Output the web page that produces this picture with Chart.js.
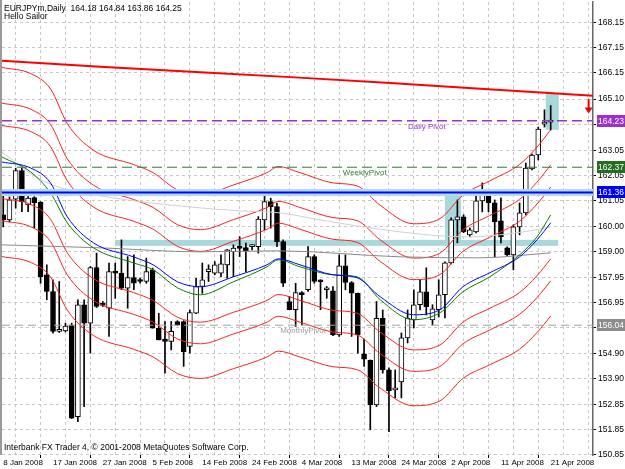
<!DOCTYPE html>
<html>
<head>
<meta charset="utf-8">
<script src="https://cdn.jsdelivr.net/npm/chart.js@4.4.1/dist/chart.umd.min.js"></script>
<style>
  html, body { margin: 0; padding: 0; background: #fff; }
</style>
</head>
<body>
<canvas id="c" width="625" height="469"></canvas>
<script>
// EURJPYm daily, 8 Jan 2008 .. 21 Apr 2008 (bars incl. sunday bars)
const dateLabels = ["8 Jan 2008", "17 Jan 2008", "27 Jan 2008", "5 Feb 2008", "14 Feb 2008", "24 Feb 2008",
  "4 Mar 2008", "13 Mar 2008", "24 Mar 2008", "2 Apr 2008", "11 Apr 2008", "21 Apr 2008"];

const opens = [160.46, 160.26, 161.09, 162.24, 160.86, 161.15, 160.97, 158.06, 157.39, 155.79,
  155.81, 156.05, 152.38, 156.86, 156.12, 158.35, 156.92, 156.72, 158.19, 158.13,
  157.52, 157.95, 157.80, 157.79, 158.26, 155.92, 155.48, 155.39, 156.19, 156.19,
  155.19, 156.52, 157.59, 158.19, 158.13, 158.13, 158.46, 158.99, 159.13, 159.15,
  159.19, 159.19, 160.26, 160.99, 160.79, 159.39, 156.99, 156.66, 157.35, 157.46,
  158.79, 157.79, 157.46, 157.42, 155.65, 158.42, 157.75, 157.32, 154.89, 154.63,
  152.85, 156.32, 154.25, 153.45, 153.77, 155.53, 156.25, 156.86, 157.38, 156.25,
  156.66, 157.26, 158.54, 160.26, 160.38, 159.66, 159.78, 161.02, 161.26, 160.94,
  160.22, 159.14, 158.86, 159.98, 160.54, 162.30, 162.86, 164.10, 164.18];
const highs = [161.34, 161.18, 162.33, 162.33, 161.19, 161.19, 160.99, 158.46, 157.86, 157.79,
  156.12, 156.12, 157.06, 157.06, 158.39, 158.93, 156.99, 158.53, 158.53, 159.46,
  158.79, 158.86, 157.93, 158.73, 158.33, 156.52, 156.19, 156.19, 156.22, 156.22,
  156.65, 157.92, 158.53, 158.46, 158.59, 158.86, 159.08, 159.26, 159.59, 159.33,
  159.26, 160.39, 161.35, 161.13, 160.93, 159.46, 157.19, 157.72, 157.39, 159.19,
  158.86, 157.86, 157.59, 157.59, 158.86, 158.86, 157.79, 157.33, 155.48, 154.65,
  156.99, 156.65, 154.33, 154.25, 155.73, 156.65, 157.46, 157.86, 158.34, 156.86,
  157.86, 158.58, 160.34, 161.06, 160.46, 159.94, 161.46, 161.74, 161.34, 161.06,
  161.14, 159.18, 160.06, 160.94, 162.54, 162.90, 163.98, 164.67, 164.84];
const lows = [159.98, 160.18, 160.73, 160.59, 160.59, 159.93, 157.72, 157.06, 155.72, 155.75,
  155.77, 152.30, 152.18, 152.78, 154.92, 156.75, 156.79, 155.59, 157.12, 157.46,
  156.72, 157.46, 157.72, 157.72, 155.92, 155.45, 154.12, 155.05, 156.02, 154.39,
  154.92, 156.50, 157.32, 157.79, 158.06, 157.99, 157.92, 157.99, 158.79, 158.19,
  159.06, 158.93, 159.86, 159.93, 159.19, 157.59, 156.66, 155.99, 156.05, 157.39,
  157.72, 156.66, 157.12, 155.62, 155.59, 157.46, 155.59, 154.92, 154.39, 151.85,
  152.78, 154.12, 151.77, 153.13, 153.13, 155.33, 155.93, 156.65, 156.45, 156.05,
  156.37, 156.33, 158.50, 159.34, 159.75, 159.58, 159.74, 160.58, 160.58, 158.78,
  159.34, 158.82, 158.26, 159.66, 160.46, 162.26, 162.66, 163.98, 163.86];
const closes = [160.26, 161.06, 162.24, 160.99, 161.13, 160.95, 157.99, 157.39, 155.79, 155.88,
  156.01, 152.32, 156.86, 156.12, 158.35, 156.79, 156.83, 158.19, 158.13, 157.52,
  157.95, 157.72, 157.79, 158.19, 155.92, 155.45, 155.39, 155.79, 156.05, 154.98,
  156.55, 157.59, 157.86, 158.29, 158.46, 158.50, 159.06, 159.13, 159.12, 159.03,
  159.20, 160.29, 160.99, 160.79, 159.39, 157.72, 156.66, 157.35, 157.26, 158.79,
  157.79, 157.78, 157.47, 155.65, 158.42, 157.75, 157.32, 155.65, 154.68, 152.85,
  156.32, 154.25, 153.42, 153.53, 155.53, 156.33, 156.86, 157.38, 156.78, 156.70,
  157.26, 158.54, 160.26, 160.38, 159.78, 159.86, 161.02, 161.26, 160.94, 160.18,
  159.58, 158.86, 159.98, 160.54, 162.34, 162.86, 163.90, 164.18, 164.25];

// moving averages, read at a few bars
const blueBars = [-0.2, 4.4, 7.6, 10.3, 14.5, 20.9, 24.1, 28.0, 31.7, 37.0, 42.4, 44.2, 47.7, 53.0, 56.9, 60.6, 65.9, 70.2, 73.9, 78.2, 83.0, 85.8, 88.0];
const blueVals = [162.58, 162.34, 161.74, 160.38, 159.34, 158.78, 158.46, 157.78, 157.58, 157.98, 158.46, 158.70, 158.46, 158.06, 157.94, 157.18, 156.46, 156.66, 157.58, 158.14, 158.78, 159.46, 160.14];
const greenBars = [-0.2, 4.4, 7.6, 10.3, 14.5, 20.9, 24.1, 28.0, 31.7, 37.0, 42.4, 44.2, 47.7, 53.0, 56.9, 60.6, 65.9, 70.2, 73.9, 78.2, 83.0, 85.8, 88.0];
const greenVals = [162.78, 162.18, 161.34, 160.14, 159.14, 158.54, 158.26, 157.54, 157.26, 157.78, 158.38, 158.66, 158.38, 158.06, 157.98, 157.06, 156.26, 156.54, 157.38, 157.98, 158.86, 159.58, 160.46];
const silverBars = [-0.2, 5.5, 10.3, 15.6, 23.7, 31.7, 38.1, 44.5, 50.9, 55.8, 63.8, 70.2, 75.0, 79.8, 84.6, 88.0];
const silverVals = [162.98, 161.94, 161.46, 161.22, 160.94, 160.74, 160.62, 160.54, 160.26, 160.06, 159.78, 159.62, 159.58, 159.66, 159.82, 159.98];
const grayBars = [-0.2, 15.6, 31.7, 44.0, 63.8, 76.6, 88.0];
const grayVals = [159.26, 159.14, 158.98, 159.02, 158.78, 158.74, 158.94];
const trendBars = [-0.2, 15.6, 31.7, 46.2, 62.2, 76.7, 94.8];
const trendVals = [166.64, 166.40, 166.18, 165.98, 165.74, 165.51, 165.23];

// envelopes around the blue average, in percent
const envDev = [0.9, 1.45, 2.33];

// levels
const dailyPivot = 164.23;
const weeklyPivot = 162.37;
const blueLevel = 161.36;
const monthlyPivot = 156.04;

// rectangle objects (bars / prices)
const zoneStart = [18.0, 71.0, 87.2];
const zoneEnd = [89.2, 73.6, 89.3];
const zoneLow = [159.22, 159.22, 163.87];
const zoneHigh = [159.46, 161.22, 165.35];

const yTickLabels = ["168.15", "167.15", "166.15", "165.10", "164.10", "163.05", "162.05", "161.05", "160.00",
  "159.00", "157.95", "156.95", "155.95", "154.90", "153.90", "152.85", "151.85", "150.85"];

const FONT = '"Liberation Sans", Arial, sans-serif';
const X_MIN = -0.2, X_MAX = 94.8;
const gridBars = Array.from({length: 24}, (_, i) => i * 4);

const pts = (xs, ys) => xs.map((x, i) => ({x: x, y: ys[i]}));
const lineDs = (data, color, width, order, extra) => Object.assign({
  type: 'line', data: data, borderColor: color, borderWidth: width, pointRadius: 0,
  cubicInterpolationMode: 'monotone', fill: false, order: order
}, extra || {});
const level = v => [{x: X_MIN, y: v}, {x: X_MAX, y: v}];

const datasets = [];

// candles
datasets.push({
  type: 'bar', label: 'wicks', order: 30, grouped: false,
  data: opens.map((o, i) => ({x: i, y: [lows[i], highs[i]]})),
  backgroundColor: '#000', borderWidth: 0, barThickness: 1, minBarLength: 1
});
datasets.push({
  type: 'bar', label: 'bodies', order: 29, grouped: false,
  data: opens.map((o, i) => ({x: i, y: [o, closes[i]]})),
  backgroundColor: opens.map((o, i) => closes[i] >= o ? '#fff' : '#000'),
  borderColor: '#000', borderWidth: 1, borderSkipped: false,
  barThickness: 5, minBarLength: 2
});

// envelopes
envDev.forEach(d => {
  datasets.push(lineDs(pts(blueBars, blueVals.map(v => v * (1 + d / 100))), '#ff2020', 1, 10));
  datasets.push(lineDs(pts(blueBars, blueVals.map(v => v * (1 - d / 100))), '#ff2020', 1, 10));
});

datasets.push(lineDs(pts(silverBars, silverVals), '#d0d0d0', 1, 9));
datasets.push(lineDs(pts(grayBars, grayVals), '#8a8a8a', 1, 9));
datasets.push(lineDs(pts(greenBars, greenVals), '#008000', 1, 8));
datasets.push(lineDs(pts(blueBars, blueVals), '#0000ff', 1, 7));
datasets.push(lineDs(pts(trendBars, trendVals), '#ff0000', 2, 6, {cubicInterpolationMode: 'default', tension: 0}));

// horizontal levels
datasets.push(lineDs(level(blueLevel), '#b0dce6', 7, 5));
datasets.push(lineDs(level(blueLevel), '#0000ff', 2, 4));
datasets.push(lineDs(level(dailyPivot), '#9932cc', 1.5, 3, {borderDash: [10, 5]}));
datasets.push(lineDs(level(weeklyPivot), '#2e7d2e', 1, 3, {borderDash: [10, 5]}));
datasets.push(lineDs(level(monthlyPivot), '#a0a0a0', 1, 3, {borderDash: [8, 5]}));

const overlay = {
  id: 'overlay',
  beforeDatasetsDraw(chart) {
    const {ctx, scales: {x, y}} = chart;
    ctx.save();
    ctx.fillStyle = '#a8d8dc';
    for (let i = 0; i < zoneStart.length; i++) {
      const x0 = x.getPixelForValue(zoneStart[i]), x1 = x.getPixelForValue(zoneEnd[i]);
      const y0 = y.getPixelForValue(zoneHigh[i]), y1 = y.getPixelForValue(zoneLow[i]);
      ctx.fillRect(x0, y0, x1 - x0, y1 - y0);
    }
    ctx.restore();
  },
  afterDraw(chart) {
    const {ctx, chartArea: ca, scales: {x, y}} = chart;
    ctx.save();
    // left frame
    ctx.fillStyle = '#9a9a9a';
    ctx.fillRect(0, ca.top - 2, 2, ca.bottom - ca.top + 2);

    // header / footer
    ctx.fillStyle = '#000';
    ctx.font = '8.5px ' + FONT;
    ctx.textBaseline = 'middle';
    ctx.textAlign = 'left';
    const n = opens.length - 1;
    ctx.fillText('EURJPYm,Daily  ' + [opens[n], highs[n], lows[n], closes[n]].map(v => v.toFixed(2)).join(' '), 4, 9);
    ctx.fillText('Hello Sailor', 4, 17);
    ctx.fillText('Interbank FX Trader 4, \u00a9 2001-2008 MetaQuotes Software Corp.', 4, 448);

    // pivot captions
    ctx.font = '8px ' + FONT;
    ctx.textAlign = 'center';
    const caps = [['Daily Pivot', dailyPivot, 68.1, '#9932cc'], ['WeeklyPivot', weeklyPivot, 58.1, '#2e7d2e'], ['MonthlyPivot', monthlyPivot, 48.2, '#a0a0a0']];
    caps.forEach(c => {
      ctx.fillStyle = c[3];
      ctx.fillText(c[0], x.getPixelForValue(c[2]), y.getPixelForValue(c[1]) + 6);
    });

    // price boxes on the axis
    ctx.font = '8.5px ' + FONT;
    ctx.textAlign = 'left';
    const boxes = [[dailyPivot, '#9932cc'], [weeklyPivot, '#226f22'], [blueLevel, '#0000ff'], [monthlyPivot, '#8c8c8c']];
    boxes.forEach(b => {
      const py = Math.round(y.getPixelForValue(b[0]));
      ctx.fillStyle = b[1];
      ctx.fillRect(ca.right + 4, py - 6, 28, 12);
      ctx.fillStyle = '#fff';
      ctx.fillText(b[0].toFixed(2), ca.right + 5, py + 0.5);
    });

    // red arrow
    const ax = x.getPixelForValue(94.1);
    const aTop = y.getPixelForValue(165.1), aBot = y.getPixelForValue(164.52);
    ctx.fillStyle = '#ee0000';
    ctx.fillRect(ax - 1, aTop, 2, aBot - aTop - 4);
    ctx.beginPath();
    ctx.moveTo(ax - 4, aBot - 6);
    ctx.lineTo(ax + 4, aBot - 6);
    ctx.lineTo(ax, aBot);
    ctx.closePath();
    ctx.fill();
    ctx.restore();
  }
};

new Chart(document.getElementById('c'), {
  data: {datasets: datasets},
  options: {
    responsive: false,
    animation: false,
    devicePixelRatio: 1,
    layout: {padding: {left: 2, top: 2, right: 0, bottom: 0}},
    plugins: {legend: {display: false}, tooltip: {enabled: false}},
    scales: {
      x: {
        type: 'linear', min: X_MIN, max: X_MAX, offset: false,
        afterBuildTicks: s => { s.ticks = gridBars.map(v => ({value: v})); },
        afterFit: s => { s.height = 14; s.paddingLeft = 0; s.paddingRight = 0; },
        grid: {color: '#c8c8c8', lineWidth: 1, tickLength: 3,
          tickColor: c => (c.tick && c.tick.value % 8 === 0) ? '#000' : 'rgba(0,0,0,0)'},
        border: {display: false, dash: [3, 3]},
        ticks: {autoSkip: false, maxRotation: 0, minRotation: 0, align: 'start', padding: 0,
          color: '#000', font: {family: FONT, size: 8},
          callback: v => v % 8 === 0 ? dateLabels[v / 8] : ''}
      },
      y: {
        type: 'linear', position: 'right', min: 150.84, max: 168.99,
        afterBuildTicks: s => { s.ticks = yTickLabels.map(t => ({value: parseFloat(t)})); },
        afterFit: s => { s.width = 32; s.paddingTop = 0; s.paddingBottom = 0; },
        grid: {color: '#c8c8c8', lineWidth: 1, tickLength: 3, tickColor: '#000'},
        border: {display: true, color: '#666', width: 1.5, dash: [3, 3]},
        ticks: {color: '#000', padding: 2, font: {family: FONT, size: 8.5},
          callback: (v, i) => yTickLabels[i]}
      }
    }
  },
  plugins: [overlay]
});
</script>
</body>
</html>
